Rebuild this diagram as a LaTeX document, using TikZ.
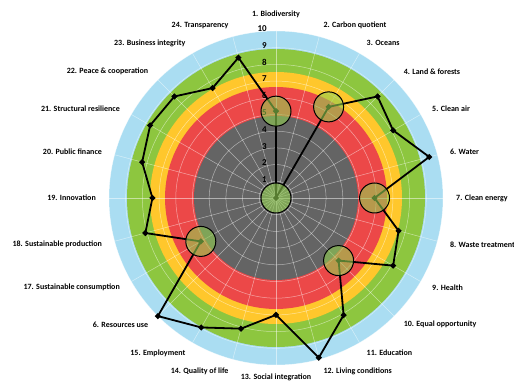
\documentclass[tikz,border=0pt]{standalone}
\usepackage{fontspec}
\setmainfont{Carlito}
\usetikzlibrary{shapes.geometric}

\definecolor{ringblue}{RGB}{170,221,242}
\definecolor{ringgreen}{RGB}{141,198,63}
\definecolor{ringyellow}{RGB}{255,199,44}
\definecolor{ringred}{RGB}{236,72,72}
\definecolor{ringgray}{RGB}{100,100,100}
\definecolor{hlgreen}{RGB}{146,208,80}

\begin{document}
\begin{tikzpicture}
        [x=1pt,y=1pt,
         grid/.style={white,opacity=0.5,line width=0.5pt},
         catlabel/.style={font=\fontsize{8}{9}\selectfont\bfseries,inner sep=1pt},
         scalelabel/.style={font=\fontsize{9}{10}\selectfont\bfseries,inner sep=1pt,anchor=east},
         dataline/.style={line width=1.8pt,line join=round},
         dot/.style={diamond,fill=black,inner sep=0pt,minimum size=6.5pt},
         hilite/.style={circle,draw=black,line width=1pt,fill=hlgreen,fill opacity=0.6,
           minimum size=30pt,inner sep=0pt}]
        \useasboundingbox (-276,-184) rectangle (238,198);

        \fill[ringblue] (0,0) circle (167);
        \fill[ringgreen] (0,0) circle (149);
        \fill[ringyellow] (0,0) circle (126);
        \fill[ringred] (0,0) circle (111);
        \fill[ringgray] (0,0) circle (82);

        \foreach \r in {1,...,10} \draw[grid] (0,0) circle ({\r*16.7});
        \foreach \a in {0,15,...,345} \draw[grid] (0,0) -- (\a:167);

        \foreach \v in {1,...,10} \node[scalelabel] (s\v) at (-8,{\v*16.8+1.5}) {\v};

        \foreach \v [count=\i] in {5.2,0,6.3,8.6,8.1,9.5,5.9,7.6,8.1,5.3,8.1,9.9,
                                   7.0,8.1,8.95,10,5.2,8.1,7.4,8.3,8.7,8.6,7.6,8.7}
          \coordinate (p\i) at ({90-15*(\i-1)}:{\v*16.7});

        \draw[dataline] (p1) \foreach \i in {2,...,24} {-- (p\i)} -- cycle;
        \foreach \i in {1,...,24} \node[dot] (m\i) at (p\i) {};
        \foreach \i in {1,2,3,7,10,17} \node[hilite] (h\i) at (p\i) {};

        \foreach \i/\t/\an in {1/1. Biodiversity/south, 2/2. Carbon quotient/west,
            3/3. Oceans/west, 4/4. Land \& forests/west, 5/5. Clean air/west,
            6/6. Water/west, 7/7. Clean energy/west, 8/8. Waste treatment/west,
            9/9. Health/west, 10/10. Equal opportunity/west, 11/11. Education/west,
            12/12. Living conditions/west,
            14/14. Quality of life/east, 15/15. Employment/east, 16/6. Resources use/east,
            17/17. Sustainable consumption/east, 18/18. Sustainable production/east,
            19/19. Innovation/east, 20/20. Public finance/east,
            21/21. Structural resilience/east, 22/22. Peace \& cooperation/east,
            23/23. Business integrity/east, 24/24. Transparency/east}
          \node[catlabel,anchor=\an] (l\i) at ({90-15*(\i-1)}:179) {\t};
        \node[catlabel,anchor=south] (l13) at (0,-184) {13. Social integration};
      \end{tikzpicture}
\end{document}
